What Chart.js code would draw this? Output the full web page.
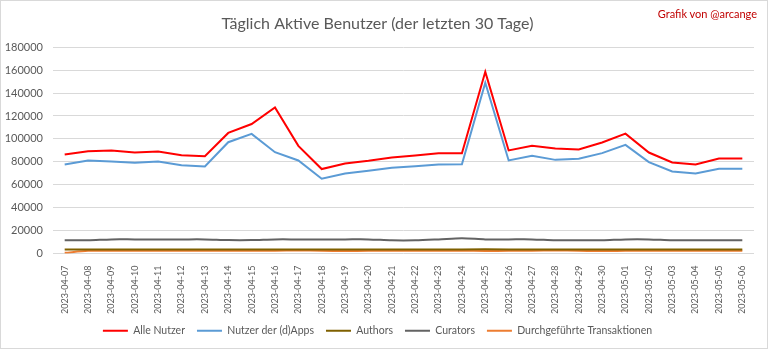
<!DOCTYPE html>
<html>
<head>
<meta charset="utf-8">
<script src="https://cdn.jsdelivr.net/npm/chart.js@4.4.0/dist/chart.umd.min.js"></script>
<style>
  html, body { margin: 0; padding: 0; background: #fff; }
  #wrap { position: relative; width: 766px; height: 347px; border: 1px solid #d9d9d9; }
  #credit { position: absolute; right: 10px; top: 6px; font: 11px Lato, sans-serif; color: #c00000; }
</style>
</head>
<body>
<div id="wrap">
  <canvas id="myChart" width="766" height="347"></canvas>
  <div id="credit">Grafik von @arcange</div>
</div>
<script>
const labels = ['2023-04-07', '2023-04-08', '2023-04-09', '2023-04-10', '2023-04-11', '2023-04-12',
    '2023-04-13', '2023-04-14', '2023-04-15', '2023-04-16', '2023-04-17', '2023-04-18', '2023-04-19',
    '2023-04-20', '2023-04-21', '2023-04-22', '2023-04-23', '2023-04-24', '2023-04-25', '2023-04-26',
    '2023-04-27', '2023-04-28', '2023-04-29', '2023-04-30', '2023-05-01', '2023-05-02', '2023-05-03',
    '2023-05-04', '2023-05-05', '2023-05-06']

const alleNutzer = [86400, 89300, 89800, 88100, 89000, 85800, 84900, 105200, 113000, 127500,
    93900, 73700, 78500, 80900, 83800, 85500, 87500, 87500, 158500, 89900,
    93900, 91600, 90700, 96800, 104600, 88100, 79400, 77700, 82900, 82900]

const dappNutzer = [77700, 81200, 80300, 79100, 80300, 77100, 75900, 97100, 104400, 88400,
    81200, 65200, 69800, 72200, 74800, 76200, 77700, 77800, 149000, 81200,
    85200, 81700, 82600, 87600, 94800, 79700, 71600, 69800, 73900, 73900]

const authors = [3500, 3500, 3500, 3500, 3500, 3500, 3500, 3500, 3500, 3500,
    3500, 3500, 3500, 3500, 3500, 3500, 3500, 3500, 3600, 3500,
    3500, 3500, 3500, 3500, 3500, 3500, 3500, 3500, 3500, 3500]

const curators = [11500, 11500, 12300, 12300, 12300, 12300, 12300, 11700, 11700, 12300,
    12300, 12300, 12300, 12300, 11500, 11500, 12300, 13300, 12300, 12300,
    12300, 11500, 11500, 11500, 12300, 12300, 11500, 11500, 11500, 11500]

const transaktionen = [600, 2300, 2400, 2400, 2400, 2400, 2400, 2400, 2400, 2400,
    2600, 2400, 2200, 2300, 2300, 2300, 2300, 2400, 2200, 2300,
    2400, 2600, 2400, 2100, 2300, 2400, 2400, 2300, 2300, 2300]

const yTicks = [0, 20000, 40000, 60000, 80000, 100000, 120000, 140000, 160000, 180000]

const ds = (label, data, color, tension) => ({
    label: label,
    data: data,
    borderColor: color,
    backgroundColor: color,
    borderWidth: 2,
    pointRadius: 0,
    pointStyle: 'line',
    tension: tension || 0,
})

const data = {
    labels: labels,
    datasets: [
        ds('Alle Nutzer', alleNutzer, '#ff0000'),
        ds('Nutzer der (d)Apps', dappNutzer, '#5b9bd5'),
        ds('Authors', authors, '#7f6000'),
        ds('Curators', curators, '#636363', 0.3),
        ds('Durchgeführte Transaktionen', transaktionen, '#ed7d31', 0.3),
    ]
}

const font = { family: 'Lato, sans-serif', size: 11 }

const config = {
    type: 'line',
    data: data,
    options: {
        responsive: false,
        animation: false,
        layout: { padding: { left: 0, right: 13, top: 8, bottom: 2 } },
        scales: {
            x: {
                offset: true,
                grid: { display: false },
                border: { display: false },
                ticks: { color: '#595959', font: { family: 'Lato, sans-serif', size: 9 }, minRotation: 90, maxRotation: 90, autoSkip: false, padding: 4 },
                afterFit: (scale) => { scale.height = 60 }
            },
            y: {
                min: 0,
                max: 180000,
                afterBuildTicks: (scale) => { scale.ticks = yTicks.map(v => ({ value: v })) },
                grid: { color: '#d9d9d9', drawTicks: false },
                border: { display: false },
                ticks: { color: '#595959', font: font, padding: 10, callback: (v) => String(v) },
                afterFit: (scale) => { scale.width = 52 }
            }
        },
        plugins: {
            title: {
                display: true,
                text: 'Täglich Aktive Benutzer (der letzten 30 Tage)',
                color: '#595959',
                font: { family: 'Lato, sans-serif', size: 16, weight: 'normal' },
                padding: { top: 5, bottom: 14 }
            },
            legend: {
                position: 'bottom',
                labels: {
                    color: '#595959',
                    font: { family: 'Lato, sans-serif', size: 10.5 },
                    usePointStyle: true,
                    pointStyleWidth: 25,
                    padding: 12
                }
            },
            tooltip: { enabled: false }
        }
    },
}

const myChart = new Chart(
    document.getElementById('myChart'),
    config
)
</script>
</body>
</html>
